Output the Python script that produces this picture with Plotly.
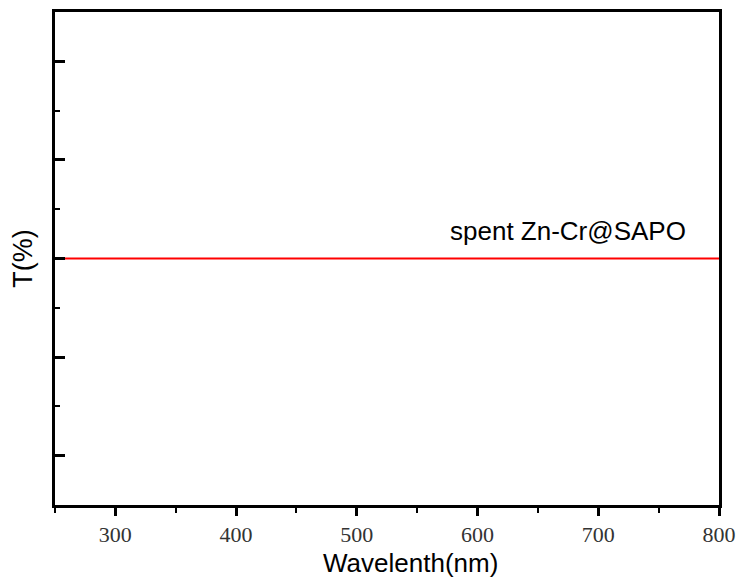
import plotly.graph_objects as go

wavelength = [250, 800]
transmittance = [3, 3]
series_name = "spent Zn-Cr@SAPO"
x_ticks = [300, 400, 500, 600, 700, 800]
y_ticks = [1, 2, 3, 4, 5]

fig = go.Figure()
fig.add_trace(go.Scatter(x=wavelength, y=transmittance, mode="lines",
                         line=dict(color="#ff0000", width=2), name=series_name,
                         showlegend=False))

fig.add_annotation(x=800, y=transmittance[0], xref="x", yref="y",
                   text=series_name, showarrow=False, xanchor="right", yanchor="bottom",
                   xshift=-31, yshift=11,
                   font=dict(family="Liberation Sans, Arial", size=26, color="#000"))

fig.add_annotation(x=(410 - 55) / (719 - 55), y=-(563 - 505) / (505 - 12),
                   xref="paper", yref="paper",
                   text="Wavelenth(nm)", showarrow=False, xanchor="center", yanchor="middle",
                   font=dict(family="Liberation Sans, Arial", size=26, color="#000"))

fig.update_layout(
    width=740, height=580,
    margin=dict(l=55, r=21, t=12, b=75, autoexpand=False),
    paper_bgcolor="white", plot_bgcolor="white",
    xaxis=dict(range=[250, 800], tickvals=x_ticks, ticks="outside", ticklen=8, tickwidth=3,
               tickcolor="black", showline=True, linewidth=3, linecolor="black", mirror=True,
               showgrid=False, zeroline=False, automargin=False,
               minor=dict(dtick=50, tick0=250, ticks="outside", ticklen=5, tickwidth=2, tickcolor="black"),
               tickfont=dict(family="Liberation Serif, Times New Roman", size=22, color="#333")),
    yaxis=dict(range=[0.5, 5.5], tickvals=y_ticks, ticks="inside", ticklen=10, tickwidth=3,
               tickcolor="black", showticklabels=False, showline=True, linewidth=3,
               linecolor="black", mirror=True, showgrid=False, zeroline=False, automargin=False,
               minor=dict(dtick=1, tick0=0.5, ticks="inside", ticklen=5, tickwidth=2, tickcolor="black"),
               title=dict(text="T(%)", standoff=12,
                          font=dict(family="Liberation Sans, Arial", size=27, color="#000"))),
)

fig.write_html("out.html")
